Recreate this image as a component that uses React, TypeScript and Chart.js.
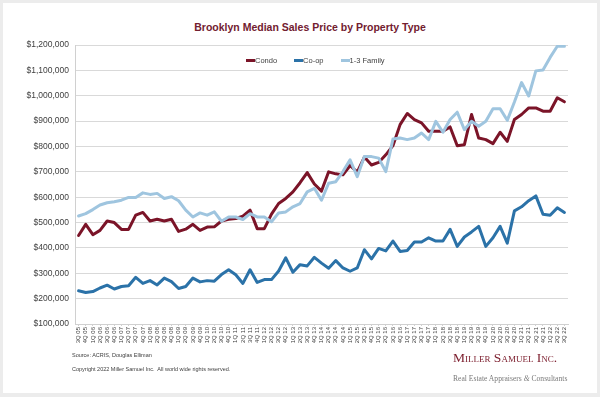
import React, { useEffect, useRef } from "react";
import { Chart, registerables } from "chart.js";

Chart.register(...registerables);

const quarters = [
  "3Q 05","4Q 05","1Q 06","2Q 06","3Q 06","4Q 06","1Q 07","2Q 07","3Q 07","4Q 07",
  "1Q 08","2Q 08","3Q 08","4Q 08","1Q 09","2Q 09","3Q 09","4Q 09","1Q 10","2Q 10",
  "3Q 10","4Q 10","1Q 11","2Q 11","3Q 11","4Q 11","1Q 12","2Q 12","3Q 12","4Q 12",
  "1Q 13","2Q 13","3Q 13","4Q 13","1Q 14","2Q 14","3Q 14","4Q 14","1Q 15","2Q 15",
  "3Q 15","4Q 15","1Q 16","2Q 16","3Q 16","4Q 16","1Q 17","2Q 17","3Q 17","4Q 17",
  "1Q 18","2Q 18","3Q 18","4Q 18","1Q 19","2Q 19","3Q 19","4Q 19","1Q 20","2Q 20",
  "3Q 20","4Q 20","1Q 21","2Q 21","3Q 21","4Q 21","1Q 22","2Q 22","3Q 22",
];

// values in $ thousands
const condo = [
  449,493,452,469,506,500,473,473,529,540,
  506,513,506,513,465,474,493,469,482,483,
  506,513,516,525,549,476,476,533,575,595,
  621,657,697,652,624,700,692,688,725,699,
  758,727,737,767,803,886,930,906,893,860,
  860,860,877,803,807,926,833,827,811,856,
  820,906,926,952,952,939,939,992,976,
];
const coop = [
  231,224,228,242,253,238,248,251,284,260,
  271,254,281,267,240,248,281,266,271,269,
  295,314,294,260,314,264,275,275,309,361,
  304,334,329,363,340,320,350,321,308,321,
  393,357,398,388,427,386,390,423,423,440,
  427,427,473,406,443,463,485,406,440,485,
  419,546,562,586,605,533,529,558,540,
];
const family13 = [
  526,535,551,569,578,582,588,599,599,617,
  611,615,595,602,586,549,522,538,529,542,
  505,522,522,512,535,522,522,503,538,542,
  562,575,621,635,588,655,661,701,747,681,
  760,760,754,701,829,833,827,833,853,827,
  899,856,906,935,866,899,880,899,949,949,
  903,975,1052,999,1098,1101,1151,1195,1195,
];

const seriesNames = ["Condo", "Co-op", "1-3 Family"];
const seriesColors = ["#7b1428", "#2b72a8", "#9fc5df"];

const FONT = "'Liberation Sans', Arial, sans-serif";
const SERIF = "'Liberation Serif', 'Times New Roman', serif";

export default function App() {
  const ref = useRef<HTMLCanvasElement | null>(null);

  useEffect(() => {
    if (!ref.current) return;
    const series = [condo, coop, family13];
    const chart = new Chart(ref.current, {
      type: "line",
      data: {
        labels: quarters,
        datasets: series.map((s, i) => ({
          label: seriesNames[i],
          data: s.map((v) => v * 1000),
          borderColor: seriesColors[i],
          backgroundColor: seriesColors[i],
          borderWidth: 3,
          pointRadius: 0,
          tension: 0,
          borderJoinStyle: "round" as const,
          borderCapStyle: "round" as const,
          order: 2 - i,
        })),
      },
      options: {
        animation: false,
        responsive: false,
        maintainAspectRatio: false,
        layout: { padding: { top: 45, left: 0, right: 32, bottom: 0 } },
        plugins: {
          legend: { display: false },
          title: { display: false },
          tooltip: { enabled: false },
        },
        scales: {
          x: {
            offset: true,
            grid: {
              display: true,
              drawOnChartArea: false,
              drawTicks: true,
              tickLength: 2,
              color: "#d0d0d0",
            },
            border: { display: true, color: "#d0d0d0", width: 1 },
            ticks: {
              autoSkip: false,
              maxRotation: 90,
              minRotation: 90,
              padding: 1,
              color: "#404040",
              font: { family: FONT, size: 6 },
            },
            afterFit: (scale: any) => {
              scale.height = 397 - 324;
            },
          },
          y: {
            min: 100000,
            max: 1200000,
            ticks: {
              stepSize: 100000,
              color: "#404040",
              padding: 6,
              font: { family: FONT, size: 8.5 },
              callback: (v: any) => "$" + Number(v).toLocaleString("en-US"),
            },
            grid: { color: "#d9d9d9", drawTicks: false, lineWidth: 1 },
            border: { display: true, color: "#d0d0d0" },
            afterFit: (scale: any) => {
              scale.width = 75;
            },
          },
        },
      },
    });
    return () => chart.destroy();
  }, []);

  const legendItems = seriesNames.map((n, i) => (
    <span key={n} style={{ display: "inline-flex", alignItems: "center", marginRight: 17 }}>
      <span style={{ display: "inline-block", width: 9, height: 3, background: seriesColors[i] }} />
      <span>{n}</span>
    </span>
  ));

  return (
    <div style={{ position: "fixed", left: 0, top: 0, width: 600, height: 397, background: "#ececec", overflow: "hidden" }}>
      <div style={{ position: "absolute", left: 3, top: 3, width: 594, height: 390, background: "#ffffff" }} />
      <div
        style={{
          position: "absolute", left: 0, top: 21, width: 620, textAlign: "center",
          fontFamily: FONT, fontWeight: "bold", fontSize: 10.5, color: "#722030",
        }}
      >
        Brooklyn Median Sales Price by Property Type
      </div>
      <canvas ref={ref} width={600} height={397} style={{ position: "absolute", left: 0, top: 0, width: 600, height: 397 }} />
      <div
        style={{
          position: "absolute", left: 246, top: 55, whiteSpace: "nowrap",
          fontFamily: FONT, fontSize: 7.5, color: "#404040", lineHeight: "10px",
        }}
      >
        {legendItems}
      </div>
      <div style={{ position: "absolute", left: 72, top: 352, fontFamily: FONT, fontSize: 5.5, color: "#404040", whiteSpace: "nowrap" }}>
        Source: ACRIS, Douglas Elliman
      </div>
      <div style={{ position: "absolute", left: 72, top: 366, fontFamily: FONT, fontSize: 5.5, color: "#404040", whiteSpace: "nowrap" }}>
        Copyright 2022 Miller Samuel Inc.&nbsp; All world wide rights reserved.
      </div>
      <div
        style={{
          position: "absolute", left: 453, top: 350, fontFamily: SERIF, fontSize: 13.5,
          fontVariant: "small-caps", color: "#7b1c2c", whiteSpace: "nowrap",
        }}
      >
        Miller Samuel Inc.
      </div>
      <div
        style={{
          position: "absolute", left: 453, top: 374, fontFamily: SERIF, fontSize: 7.6,
          color: "#7a7a7a", whiteSpace: "nowrap",
        }}
      >
        Real Estate Appraisers <i>&amp;</i> Consultants
      </div>
    </div>
  );
}
